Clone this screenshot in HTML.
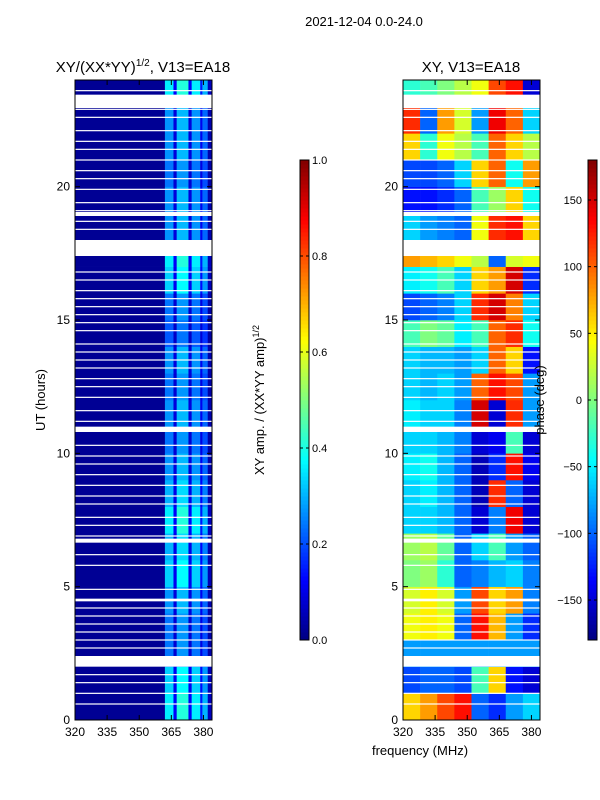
<!DOCTYPE html>
<html><head><meta charset="utf-8"><style>
body{margin:0;background:#fff;}
svg{display:block;font-family:"Liberation Sans",sans-serif;}
</style></head><body>
<svg id="fig" width="600" height="800" viewBox="0 0 600 800">
<text x="364" y="26" font-size="13" text-anchor="middle">2021-12-04 0.0-24.0</text>
<text x="143" y="72" font-size="15" text-anchor="middle">XY/(XX*YY)<tspan font-size="10" dy="-6">1/2</tspan><tspan dy="6">, V13=EA18</tspan></text>
<text x="471" y="72" font-size="15" text-anchor="middle">XY, V13=EA18</text>
<g id="left"></g>
<g id="right"></g>
<g id="cb1"></g>
<g id="cb2"></g>
<g id="axes"></g>
<text transform="translate(45,400) rotate(-90)" font-size="13" text-anchor="middle">UT (hours)</text>
<text x="420" y="755" font-size="13" text-anchor="middle">frequency (MHz)</text>
<text transform="translate(264,400) rotate(-90)" font-size="13" text-anchor="middle">XY amp. / (XX*YY amp)<tspan font-size="9" dy="-5">1/2</tspan></text>
<text transform="translate(544,400) rotate(-90)" font-size="13" text-anchor="middle">phase (deg)</text>
</svg>
<script>
const freqEdges=[320,328,336,344,352,360,368,376,384];
const phaseRows=[
[60,80,110,130,-100,-120,-80,-60],
[-110,-100,-100,-110,-20,60,-130,-150],
[-80,-80,-80,-80,-80,-80,-80,-80],
[40,50,40,-100,130,70,-80,-120],
[30,50,30,-80,110,60,80,-90],
[0,10,-30,-100,-90,-70,-60,-90],
[10,20,-10,-100,-60,-20,-80,-100],
[-60,-60,-70,-100,-150,-90,140,-150],
[-60,-50,-70,-100,-160,120,-100,-150],
[-50,-40,-70,-100,-160,-120,130,-140],
[-60,-60,-70,-90,-150,-140,-20,-150],
[-50,-60,-60,-90,150,-150,120,-80],
[-60,-70,-60,-80,100,130,110,-80],
[-60,-70,-70,-80,-60,100,60,-130],
[-20,0,-10,-50,-20,100,120,-40],
[-110,-100,-90,-60,120,150,90,-60],
[-50,-40,-20,-60,60,80,150,-120],
[80,70,60,40,20,-100,30,40],
[-60,-80,-90,-100,40,120,130,60],
[-130,-130,-120,-100,-20,10,60,-40],
[-110,-110,-100,-60,60,100,-40,80],
[60,-30,40,20,-20,100,60,20],
[120,-100,80,30,-80,140,100,-60],
[-30,-20,0,20,40,110,130,-150]
];
const ampEdges=[320,362,366,367.5,373,374.5,378.5,379.5,382,384];
const ampProfile=[0.02,0.3,0.1,0.34,0.1,0.3,0.12,0.25,0.05];
const ampHourScale=[1.2,1.1,0.8,0.8,0.9,1.1,1.0,1.2,1.0,0.9,0.8,0.9,0.8,0.9,0.7,0.8,1.1,1.2,0.9,0.9,0.8,0.9,0.9,1.2];
const flagBlocks=[[17.4,18.0],[10.8,11.0],[6.65,6.8],[4.45,4.55],[2.0,2.4],[22.95,23.45],[18.9,19.05]];
const flagLines=[23.6,23.3,23.1,22.9,22.6,22.1,21.7,21.4,21.0,20.6,20.3,19.9,19.4,19.1,18.7,18.4,16.8,16.5,16.1,15.8,15.5,15.2,14.9,14.6,14.1,13.8,13.5,13.2,12.8,12.5,12.1,11.6,11.2,10.3,9.9,9.6,9.2,8.8,8.4,8.1,7.6,7.3,6.9,6.2,5.8,4.9,4.2,3.9,3.6,3.3,3.0,2.7,1.7,1.4,1.0,0.6];
const yTicks=[0,5,10,15,20];
const xTicks=[320,335,350,365,380];
const cb1Ticks=[0,0.2,0.4,0.6,0.8,1.0];
const cb2Ticks=[-150,-100,-50,0,50,100,150];

const NS="http://www.w3.org/2000/svg";
const T=80,B=720;
const yS=h=>B-(B-T)*h/24;
function xS(L,R){return f=>L+(R-L)*(f-320)/64;}
const clamp=v=>Math.max(0,Math.min(1,v));
function jet(x){x=clamp(x);const r=clamp(1.5-Math.abs(4*x-3)),g=clamp(1.5-Math.abs(4*x-2)),b=clamp(1.5-Math.abs(4*x-1));return `rgb(${Math.round(r*255)},${Math.round(g*255)},${Math.round(b*255)})`;}
function mk(tag,attrs,parent){const e=document.createElementNS(NS,tag);for(const k in attrs)e.setAttribute(k,attrs[k]);parent.appendChild(e);return e;}

const gl=document.getElementById('left'),gr=document.getElementById('right');
const xl=xS(75,212),xr=xS(403,540);
for(let h=0;h<24;h++){
  for(let c=0;c<ampProfile.length;c++){
    const v=c===0?ampProfile[c]:ampProfile[c]*ampHourScale[h];
    const r=mk('rect',{x:xl(ampEdges[c]),y:yS(h+1),width:xl(ampEdges[c+1])-xl(ampEdges[c])+0.3,height:yS(h)-yS(h+1)+0.3,fill:jet(v)},gl);
    
    
  }
  for(let c=0;c<8;c++){
    const v=phaseRows[h][c];
    const r=mk('rect',{x:xr(freqEdges[c]),y:yS(h+1),width:xr(freqEdges[c+1])-xr(freqEdges[c])+0.3,height:yS(h)-yS(h+1)+0.3,fill:jet((v+180)/360)},gr);
    
    
  }
}
[[gl,75,212],[gr,403,540]].forEach(([g,L,R])=>{
  flagBlocks.forEach(b=>{const r=mk('rect',{x:L,y:yS(b[1]),width:R-L,height:yS(b[0])-yS(b[1]),fill:'#fff'},g);
    });
  flagLines.forEach(h=>{const r=mk('rect',{x:L,y:yS(h)-0.6,width:R-L,height:1.2,fill:'#fff'},g);
    });
});

const ax=document.getElementById('axes');
[[75,212,xl],[403,540,xr]].forEach(([L,R,xs],i)=>{
  mk('rect',{x:L,y:T,width:R-L,height:B-T,fill:'none',stroke:'#000','stroke-width':1},ax);
  yTicks.forEach(t=>{const y=yS(t);
    mk('line',{x1:L,x2:L+5,y1:y,y2:y,stroke:'#000'},ax);mk('line',{x1:R,x2:R-5,y1:y,y2:y,stroke:'#000'},ax);
    const tx=mk('text',{x:L-5,y:y+4,'font-size':12,'text-anchor':'end'},ax);tx.textContent=t;
    });
  xTicks.forEach(t=>{const x=xs(t);
    mk('line',{x1:x,x2:x,y1:B,y2:B-5,stroke:'#000'},ax);mk('line',{x1:x,x2:x,y1:T,y2:T+5,stroke:'#000'},ax);
    const tx=mk('text',{x:x,y:B+16,'font-size':12,'text-anchor':'middle'},ax);tx.textContent=t;
    });
});

function colorbar(g,L,lo,hi,ticks,leftLabels){
  const CT=160,CB=640,W=9,N=120;
  for(let i=0;i<N;i++){const r=mk('rect',{x:L,y:CB-(i+1)*(CB-CT)/N,width:W,height:(CB-CT)/N+0.5,fill:jet((i+0.5)/N)},g);
    }
  mk('rect',{x:L,y:CT,width:W,height:CB-CT,fill:'none',stroke:'#000'},g);
  ticks.forEach(t=>{const y=CB-(CB-CT)*(t-lo)/(hi-lo);
    mk('line',{x1:L,x2:L+3,y1:y,y2:y,stroke:'#000'},g);mk('line',{x1:L+W,x2:L+W-3,y1:y,y2:y,stroke:'#000'},g);
    const tx=leftLabels?mk('text',{x:L-6,y:y+4,'font-size':11,'text-anchor':'end'},g):mk('text',{x:L+W+3,y:y+4,'font-size':11},g);
    tx.textContent=(lo===0?t.toFixed(1):(t<0?'\u2212'+(-t):t));
    });
}
colorbar(document.getElementById('cb1'),300,0,1,cb1Ticks,false);
colorbar(document.getElementById('cb2'),588,-180,180,cb2Ticks,true);
</script>
</body></html>
